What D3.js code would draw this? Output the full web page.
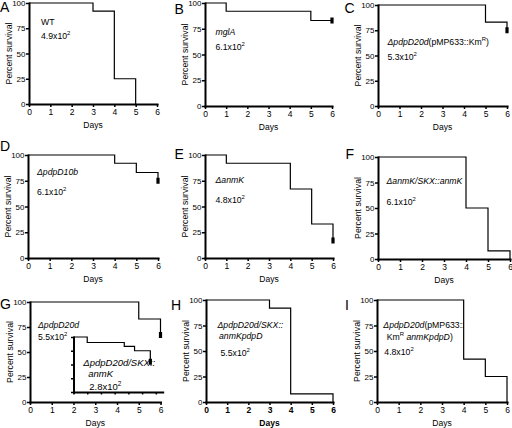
<!DOCTYPE html>
<html><head><meta charset="utf-8">
<script src="https://cdn.jsdelivr.net/npm/d3@7"></script>
<style>
body{margin:0;background:#fff}
svg{display:block}
text{font-family:"Liberation Sans",Arial,Helvetica,sans-serif;fill:#000}
</style>
</head><body>
<svg id="c" width="512" height="428"></svg>
<script>
// ---- data ----
const dayTicks = [0,1,2,3,4,5,6];
const pctTicks = [0,25,50,75,100];
const panelLetters = ["A","B","C","D","E","F","G","H","I"];
const xTitle = "Days";
const yTitle = "Percent survival";

const stepsA = [[0,100],[3,92],[4,25],[5,0]];
const stepsB = [[0,100],[1,92],[5,83],[6,83]];
const stepsC = [[0,100],[5,83],[6,75]];
const stepsD = [[0,100],[4,92],[5,83],[6,75]];
const stepsE = [[0,100],[1,92],[4,67],[5,33],[6,17]];
const stepsF = [[0,100],[4,50],[5,8],[6,0]];
const stepsG = [[0,100],[5,83],[6,67]];
const stepsH = [[0,100],[3,92],[4,8],[6,8],[6,0]];
const stepsI = [[0,100],[4,42],[5,25],[6,0]];
const stepsGinset = [[0,100],[1,90],[3.7,83],[4.45,75],[5.6,55]];

const censorA = [], censorB = [[6,83]], censorC = [[6,75]], censorD = [[6,75]],
      censorE = [[6,17]], censorF = [], censorG = [[6,67]], censorH = [], censorI = [];
const censorGinset = [[5.6,55]];

const labelsA = ["WT","4.9x10^2^"];
const labelsB = ["_mglA_","6.1x10^2^"];
const labelsC = ["_ΔpdpD20d_(pMP633::Km^R^)","5.3x10^2^"];
const labelsD = ["_ΔpdpD10b_","6.1x10^2^"];
const labelsE = ["_ΔanmK_","4.8x10^2^"];
const labelsF = ["_ΔanmK/SKX::anmK_","6.1x10^2^"];
const labelsG = ["_ΔpdpD20d_","5.5x10^2^"];
const labelsGinset = ["_ΔpdpD20d/SKX::_","_anmK_","2.8x10^2^"];
const labelsH = ["_ΔpdpD20d/SKX::_","_anmKpdpD_","5.5x10^2^"];
const labelsI = ["_ΔpdpD20d_(pMP633::","Km^R^ _anmKpdpD_)","4.8x10^2^"];

// ---- layout ----
const layout = [
 {steps:stepsA,censor:censorA,labels:labelsA,l:29,r:157,t:3,b:104,lx:0,ly:11.5,tx:[41,41],ty:[25,39]},
 {steps:stepsB,censor:censorB,labels:labelsB,l:205,r:332,t:3,b:106,lx:174.5,ly:13.5,tx:[215.5,215.5],ty:[35,50]},
 {steps:stepsC,censor:censorC,labels:labelsC,l:378,r:507,t:5,b:106,lx:344.5,ly:13,tx:[387.5,387.5],ty:[45,60]},
 {steps:stepsD,censor:censorD,labels:labelsD,l:28,r:158,t:155,b:258,lx:0,ly:150.5,tx:[37,37],ty:[175,195]},
 {steps:stepsE,censor:censorE,labels:labelsE,l:205,r:333,t:155,b:258,lx:174.5,ly:158.5,tx:[215.5,215.5],ty:[183,203]},
 {steps:stepsF,censor:censorF,labels:labelsF,l:378,r:510,t:157,b:259,lx:345.5,ly:158.5,tx:[386.5,386.5],ty:[184,205]},
 {steps:stepsG,censor:censorG,labels:labelsG,l:30,r:160.5,t:302,b:402,lx:0,ly:308.5,tx:[38,38],ty:[328,339.5]},
 {steps:stepsH,censor:censorH,labels:labelsH,l:206,r:333,t:300,b:402,lx:171,ly:309.5,tx:[217.5,219,220.5],ty:[328,338.7,355.5],bold:true},
 {steps:stepsI,censor:censorI,labels:labelsI,l:377,r:507,t:300,b:402,lx:345,ly:309.5,tx:[383.3,386.7,384.3],ty:[328,340,354.5]}
];

const svg = d3.select("#c");

function parse(s){
  const segs=[]; let it=false, sup=false, buf="";
  for(const ch of s){
    if(ch==="_"||ch==="^"){ if(buf) segs.push({t:buf,it,sup}); buf=""; if(ch==="_") it=!it; else sup=!sup; }
    else buf+=ch;
  }
  if(buf) segs.push({t:buf,it,sup});
  return segs;
}

function drawText(g, str, x, y, size){
  const t = g.append("text").attr("x",x).attr("y",y).attr("font-size",size);
  let up=false;
  parse(str).forEach(s=>{
    const ts = t.append("tspan").text(s.t).attr("font-style", s.it?"italic":"normal");
    if(s.sup && !up){ ts.attr("dy",-size*0.42).attr("font-size",size*0.68); up=true; }
    else if(!s.sup && up){ ts.attr("dy",size*0.42); up=false; }
  });
}

function styleAxis(sel, size, bold){
  sel.attr("font-size",size).attr("font-family",'"Liberation Sans",Arial,sans-serif')
     .attr("font-weight", bold?"bold":"normal");
  sel.select(".domain").attr("stroke","#000").attr("stroke-width",2).attr("stroke-linecap","square");
  sel.selectAll(".tick line").attr("stroke","#000").attr("stroke-width",1.5);
  sel.selectAll(".tick text").attr("fill","#000");
}

function curve(g, x, y, steps, censor){
  const line = d3.line().x(d=>x(d[0])).y(d=>y(d[1])).curve(d3.curveStepAfter);
  g.append("path").attr("d",line(steps)).attr("fill","none").attr("stroke","#000").attr("stroke-width",1.2);
  g.selectAll(null).data(censor).join("rect")
    .attr("x",d=>x(d[0])-1.6).attr("y",d=>y(d[1])-3).attr("width",3.2).attr("height",6).attr("fill","#000");
}

layout.forEach((p,i)=>{
  const g = svg.append("g");
  const x = d3.scaleLinear().domain([0,6]).range([p.l,p.r]);
  const y = d3.scaleLinear().domain([0,100]).range([p.b,p.t]);

  curve(g, x, y, p.steps, p.censor);

  g.append("g").attr("transform",`translate(0,${p.b})`)
    .call(d3.axisBottom(x).tickValues(dayTicks).tickFormat(d3.format("d")).tickSize(3).tickSizeOuter(0).tickPadding(2))
    .call(s=>styleAxis(s,8.5,p.bold));
  g.append("g").attr("transform",`translate(${p.l},0)`)
    .call(d3.axisLeft(y).tickValues(pctTicks).tickFormat(d3.format("d")).tickSize(3).tickSizeOuter(0).tickPadding(0.5))
    .call(s=>styleAxis(s,8,false));

  g.append("text").attr("x",(p.l+p.r)/2).attr("y",p.b+23.5).attr("text-anchor","middle")
    .attr("font-size",8.5).attr("font-weight",p.bold?"bold":"normal").text(xTitle);
  g.append("text").attr("transform",`translate(${p.l-17.5},${(p.t+p.b)/2}) rotate(-90)`)
    .attr("text-anchor","middle").attr("font-size",8.7).text(yTitle);

  g.append("text").attr("x",p.lx).attr("y",p.ly).attr("font-size",14).text(panelLetters[i]);

  p.labels.forEach((s,k)=>drawText(g, s, p.tx[k], p.ty[k], 8.7));

  if(panelLetters[i]==="G"){
    const xi = d3.scaleLinear().domain([0,6.5]).range([x(2), x(6.1)]);
    const yi = d3.scaleLinear().domain([0,100]).range([y(10), y(65)]);
    const gi = g.append("g");
    curve(gi, xi, yi, stepsGinset, censorGinset);
    gi.append("g").attr("transform",`translate(0,${yi(0)})`)
      .call(d3.axisBottom(xi).tickValues(dayTicks).tickFormat("").tickSize(2.5).tickSizeOuter(0))
      .call(s=>styleAxis(s,8,false));
    gi.append("g").attr("transform",`translate(${xi(0)},0)`)
      .call(d3.axisLeft(yi).tickValues(pctTicks).tickFormat("").tickSize(2.5).tickSizeOuter(0))
      .call(s=>styleAxis(s,8,false));
    const itx=[83.3,88.3,89.3], ity=[366,376.5,389.5];
    labelsGinset.forEach((s,k)=>drawText(gi, s, itx[k], ity[k], 9.5));
  }
});
</script>
</body></html>
